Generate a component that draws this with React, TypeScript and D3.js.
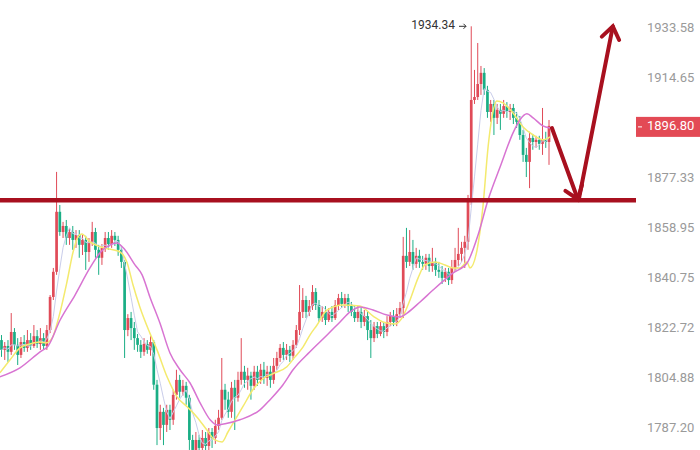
import React from 'react';
import * as d3 from 'd3';

const opens = [
  1818.5, 1815.0, 1816.4, 1814.3, 1821.4, 1816.8, 1813.2, 1817.8, 1815.7, 1818.5,
  1816.4, 1819.9, 1817.1, 1819.2, 1816.4, 1822.1, 1834.0, 1843.1, 1865.0, 1857.6,
  1859.8, 1855.4, 1857.6, 1854.7, 1856.5, 1852.9, 1854.7, 1850.3, 1854.0, 1857.6,
  1851.1, 1848.2, 1851.8, 1855.4, 1853.2, 1856.2, 1854.7, 1851.1, 1846.7, 1822.1,
  1826.4, 1822.8, 1819.2, 1816.8, 1814.3, 1817.1, 1815.0, 1817.8, 1802.6, 1787.3,
  1793.0, 1788.4, 1793.7, 1790.2, 1799.0, 1804.3, 1800.1, 1802.2, 1798.0, 1783.1,
  1779.6, 1783.1, 1780.3, 1783.8, 1781.0, 1785.9, 1783.8, 1788.0, 1790.9, 1800.8,
  1797.3, 1793.0, 1801.5, 1798.0, 1804.3, 1807.2, 1804.3, 1805.8, 1802.2, 1807.2,
  1804.3, 1807.9, 1805.0, 1807.2, 1804.3, 1809.3, 1812.1, 1815.7, 1813.2, 1815.0,
  1812.9, 1816.8, 1822.1, 1828.6, 1832.9, 1828.6, 1830.7, 1835.8, 1831.1, 1826.4,
  1828.6, 1825.7, 1828.6, 1826.4, 1831.1, 1833.6, 1831.5, 1833.6, 1830.7, 1828.6,
  1826.4, 1828.6, 1825.0, 1827.1, 1822.1, 1819.2, 1823.5, 1820.7, 1823.5, 1821.4,
  1825.0, 1827.1, 1825.0, 1827.8, 1830.0, 1848.9, 1846.7, 1850.3, 1846.0, 1848.9,
  1846.7, 1846.0, 1848.2, 1845.2, 1846.7, 1843.8, 1843.1, 1840.9, 1843.1, 1840.1,
  1844.5, 1847.4, 1849.6, 1851.8, 1854.0, 1869.4, 1906.5, 1907.6, 1912.5, 1916.7,
  1910.3, 1902.0, 1905.0, 1899.8, 1902.8, 1901.3, 1904.2, 1902.0, 1903.5, 1899.8,
  1898.3, 1893.4, 1886.0, 1883.4, 1892.3, 1890.8, 1891.6, 1890.1, 1891.6, 1890.8,
];

const highs = [
  1820.3, 1817.8, 1818.5, 1828.2, 1822.8, 1819.2, 1819.6, 1820.3, 1822.1, 1821.0,
  1823.9, 1822.1, 1822.8, 1821.0, 1823.9, 1834.7, 1844.5, 1879.7, 1867.5, 1861.3,
  1862.0, 1859.1, 1859.8, 1858.3, 1858.3, 1856.5, 1856.2, 1855.4, 1861.3, 1859.1,
  1852.9, 1853.2, 1857.6, 1857.6, 1858.3, 1857.6, 1856.2, 1852.5, 1847.4, 1827.8,
  1828.6, 1825.0, 1820.7, 1818.5, 1819.2, 1818.5, 1819.9, 1818.5, 1804.3, 1795.5,
  1794.4, 1795.5, 1795.5, 1800.8, 1807.9, 1806.1, 1804.3, 1803.6, 1799.0, 1784.9,
  1785.9, 1784.9, 1786.6, 1785.9, 1787.3, 1787.3, 1790.2, 1793.7, 1812.1, 1802.9,
  1800.1, 1803.6, 1804.3, 1807.2, 1819.2, 1809.3, 1808.6, 1807.2, 1809.3, 1809.3,
  1810.0, 1810.7, 1809.3, 1809.3, 1812.1, 1814.3, 1817.1, 1817.8, 1817.1, 1816.4,
  1818.5, 1823.9, 1838.3, 1837.2, 1834.4, 1832.9, 1838.3, 1837.2, 1832.9, 1830.7,
  1830.7, 1830.0, 1830.7, 1832.9, 1835.1, 1835.8, 1835.1, 1835.1, 1832.2, 1830.7,
  1830.7, 1830.0, 1829.3, 1828.6, 1825.7, 1825.0, 1825.0, 1825.0, 1825.0, 1827.1,
  1828.6, 1829.3, 1830.0, 1832.2, 1855.8, 1859.1, 1858.3, 1854.7, 1851.8, 1851.1,
  1848.9, 1849.6, 1849.6, 1851.8, 1848.2, 1846.7, 1845.2, 1844.5, 1844.5, 1847.4,
  1851.8, 1859.1, 1854.0, 1856.2, 1871.2, 1934.34, 1917.8, 1928.0, 1919.3, 1918.5,
  1911.8, 1906.5, 1906.5, 1905.0, 1905.0, 1906.5, 1905.7, 1905.0, 1905.0, 1902.0,
  1900.5, 1895.3, 1888.6, 1894.6, 1893.8, 1893.1, 1893.1, 1903.5, 1894.6, 1899.0,
];

const lows = [
  1812.5, 1811.4, 1810.7, 1813.2, 1815.0, 1809.6, 1812.1, 1814.3, 1814.3, 1815.0,
  1815.7, 1815.7, 1815.0, 1815.0, 1815.0, 1821.0, 1832.9, 1842.0, 1856.2, 1855.4,
  1852.9, 1852.9, 1851.1, 1851.8, 1848.2, 1849.2, 1843.8, 1846.7, 1852.5, 1848.2,
  1842.0, 1845.6, 1850.3, 1851.1, 1851.8, 1852.5, 1848.9, 1844.5, 1812.1, 1819.9,
  1818.5, 1815.0, 1814.3, 1812.1, 1812.9, 1813.6, 1812.9, 1800.8, 1781.3, 1783.1,
  1781.3, 1785.9, 1786.6, 1788.4, 1797.3, 1798.0, 1798.7, 1795.5, 1779.6, 1776.1,
  1776.8, 1776.1, 1777.8, 1775.4, 1778.9, 1780.3, 1781.7, 1786.6, 1790.2, 1793.7,
  1790.9, 1790.9, 1786.6, 1796.6, 1802.6, 1801.5, 1800.8, 1797.3, 1800.8, 1802.2,
  1802.9, 1802.9, 1802.2, 1801.5, 1802.9, 1807.9, 1810.7, 1811.4, 1811.4, 1810.7,
  1811.4, 1815.7, 1820.3, 1826.4, 1826.4, 1827.1, 1829.3, 1829.3, 1825.0, 1825.0,
  1823.9, 1825.0, 1825.0, 1825.7, 1829.3, 1830.0, 1830.0, 1828.6, 1827.1, 1825.0,
  1825.0, 1822.8, 1823.5, 1818.5, 1812.1, 1817.8, 1819.2, 1819.9, 1819.2, 1819.9,
  1823.5, 1823.5, 1823.5, 1826.4, 1826.4, 1844.5, 1845.2, 1843.8, 1844.5, 1844.5,
  1843.8, 1843.8, 1843.1, 1843.1, 1841.6, 1840.9, 1838.7, 1839.4, 1838.3, 1838.7,
  1843.1, 1845.2, 1846.7, 1844.5, 1851.1, 1867.5, 1905.0, 1906.5, 1908.4, 1908.4,
  1899.8, 1898.3, 1893.4, 1897.5, 1895.3, 1899.8, 1899.8, 1899.0, 1897.5, 1896.0,
  1891.6, 1883.4, 1877.8, 1873.7, 1887.9, 1888.6, 1887.9, 1886.0, 1888.6, 1882.3,
];

const closes = [
  1815.0, 1816.4, 1814.3, 1821.4, 1816.8, 1813.2, 1817.8, 1815.7, 1818.5, 1816.4,
  1819.9, 1817.1, 1819.2, 1816.4, 1822.1, 1834.0, 1843.1, 1865.0, 1857.6, 1859.8,
  1855.4, 1857.6, 1854.7, 1856.5, 1852.9, 1854.7, 1850.3, 1854.0, 1857.6, 1851.1,
  1848.2, 1851.8, 1855.4, 1853.2, 1856.2, 1854.7, 1851.1, 1846.7, 1822.1, 1826.4,
  1822.8, 1819.2, 1816.8, 1814.3, 1817.1, 1815.0, 1817.8, 1802.6, 1787.3, 1793.0,
  1788.4, 1793.7, 1790.2, 1799.0, 1804.3, 1800.1, 1802.2, 1798.0, 1783.1, 1779.6,
  1783.1, 1780.3, 1783.8, 1781.0, 1785.9, 1783.8, 1788.0, 1790.9, 1800.8, 1797.3,
  1793.0, 1801.5, 1798.0, 1804.3, 1807.2, 1804.3, 1805.8, 1802.2, 1807.2, 1804.3,
  1807.9, 1805.0, 1807.2, 1804.3, 1809.3, 1812.1, 1815.7, 1813.2, 1815.0, 1812.9,
  1816.8, 1822.1, 1828.6, 1832.9, 1828.6, 1830.7, 1835.8, 1831.1, 1826.4, 1828.6,
  1825.7, 1828.6, 1826.4, 1831.1, 1833.6, 1831.5, 1833.6, 1830.7, 1828.6, 1826.4,
  1828.6, 1825.0, 1827.1, 1822.1, 1819.2, 1823.5, 1820.7, 1823.5, 1821.4, 1825.0,
  1827.1, 1825.0, 1827.8, 1830.0, 1848.9, 1846.7, 1850.3, 1846.0, 1848.9, 1846.7,
  1846.0, 1848.2, 1845.2, 1846.7, 1843.8, 1843.1, 1840.9, 1843.1, 1840.1, 1844.5,
  1847.4, 1849.6, 1851.8, 1854.0, 1869.4, 1906.5, 1907.6, 1912.5, 1916.7, 1910.3,
  1902.0, 1905.0, 1899.8, 1902.8, 1901.3, 1904.2, 1902.0, 1903.5, 1899.8, 1898.3,
  1893.4, 1886.0, 1883.4, 1892.3, 1890.8, 1891.6, 1890.1, 1891.6, 1890.8, 1896.8,
];

// moving-average lines: [bar index, price]
const maMidPoints: [number, number][] = [
  [-0.5, 1806.8], [2.6, 1811.4], [5.7, 1815.7], [8.8, 1817.1], [11.9, 1817.8], [13.7, 1817.5],
  [15.6, 1819.2], [18.1, 1828.6], [20.2, 1839.4], [22.1, 1850.3], [23.6, 1855.8], [24.8, 1856.9],
  [27.3, 1854.0], [30.4, 1852.2], [34.4, 1851.1], [36.6, 1850.3], [38.7, 1846.7], [40.6, 1838.3],
  [42.7, 1830.4], [45.8, 1821.0], [48, 1815.0], [51.1, 1805.4], [54.2, 1798.3], [57.3, 1794.8],
  [60.3, 1791.2], [63.4, 1786.6], [65.9, 1783.1], [68.1, 1782.4], [69.9, 1785.9], [72.1, 1790.2],
  [74.5, 1794.8], [77.6, 1800.8], [80.7, 1804.7], [84.4, 1806.8], [88.1, 1809.0], [90.6, 1812.5],
  [93.1, 1816.1], [95.2, 1820.3], [97.4, 1823.9], [100.5, 1829.3], [105.4, 1831.1], [110.6, 1830.7],
  [114.7, 1827.1], [117.7, 1825.0], [121.5, 1824.3], [123.6, 1826.4], [126.1, 1832.9], [128.6, 1840.9],
  [130.7, 1845.6], [133.8, 1846.7], [136.9, 1845.6], [139.4, 1844.5], [141.5, 1844.5], [143.7, 1846.7],
  [144.6, 1844.5], [146.8, 1851.1], [148.6, 1866.8], [150.2, 1889.0], [151.4, 1900.1], [152.9, 1906.1],
  [154.8, 1905.4], [157.9, 1901.6], [161, 1896.4], [164.1, 1893.4], [167.1, 1891.6], [169.3, 1892.7],
];

const maSlowPoints: [number, number][] = [
  [-0.5, 1805.4], [5.7, 1808.6], [11.9, 1814.3], [14.4, 1816.4], [18.1, 1825.7], [22.7, 1834.7],
  [27.3, 1844.5], [30.4, 1850.0], [33.5, 1852.9], [35.6, 1853.6], [38.1, 1851.1], [41.2, 1845.6],
  [43.4, 1842.0], [45.8, 1834.0], [48.9, 1824.6], [52, 1813.9], [55.1, 1807.9], [58.2, 1803.2],
  [61.3, 1796.2], [64.4, 1790.2], [66.5, 1788.4], [69, 1788.8], [73.6, 1790.2], [79.8, 1793.7],
  [82.9, 1797.3], [86.9, 1802.6], [90, 1807.9], [95.2, 1814.3], [100.5, 1820.3], [104.5, 1825.0],
  [107.6, 1828.6], [110.6, 1830.4], [114.7, 1829.3], [119, 1827.5], [123, 1826.8], [125.2, 1828.2],
  [129.2, 1832.2], [133.2, 1836.5], [139.4, 1842.7], [143.7, 1846.3], [147.1, 1856.5], [150.2, 1869.4],
  [153.9, 1881.5], [157.9, 1894.2], [160, 1899.0], [162.2, 1901.3], [164.1, 1899.8], [167.1, 1896.8],
  [169.3, 1896.0],
];

const yTickValues = [1933.58, 1914.65, 1877.33, 1858.95, 1840.75, 1822.72, 1804.88, 1787.2];
const lastPrice = 1896.8;
const peakPrice = 1934.34;
const supportPrice = 1869.2;
// hand-drawn arrows in chart coordinates: [bar index, price]
const downArrow: [number, number][] = [[169.9, 1896.0], [177.9, 1869.6]];
const upArrow: [number, number][] = [[178.2, 1869.6], [188.7, 1934.3]];

const W = 700;
const H = 450;
const PLOT_RIGHT = 636;
const UP = '#e04b58';
const DOWN = '#1aae85';
const MARK = '#a8101f';

export default function App() {
  const n = closes.length;
  const x = d3.scaleLinear().domain([0, n - 1]).range([1.5, 549]);
  const y = d3.scaleLog().domain([1787.2, 1933.58]).range([428.3, 28.3]);
  const bodyW = 2.7;

  const maFast = closes.map((_, i) => d3.mean(closes.slice(Math.max(0, i - 4), i + 1)) as number);
  const fastLine = d3.line<number>().x((_, i) => x(i)).y((d) => y(d))(maFast) || '';
  const smooth = d3.line<[number, number]>().x((d) => x(d[0])).y((d) => y(d[1])).curve(d3.curveMonotoneX);
  const midPath = smooth(maMidPoints) || '';
  const slowPath = smooth(maSlowPoints) || '';

  const arrow = (pts: [number, number][]) => {
    const [a, b] = pts;
    const x1 = x(a[0]), y1 = y(a[1]), x2 = x(b[0]), y2 = y(b[1]);
    const ang = Math.atan2(y1 - y2, x1 - x2);
    const len = 15;
    const spread = (36 * Math.PI) / 180;
    const w1 = [x2 + len * Math.cos(ang - spread), y2 + len * Math.sin(ang - spread)];
    const w2 = [x2 + len * Math.cos(ang + spread), y2 + len * Math.sin(ang + spread)];
    return (
      <g>
        <line x1={x1} y1={y1} x2={x2} y2={y2} stroke={MARK} strokeWidth={4} strokeLinecap="round" />
        <polyline
          points={`${w1[0]},${w1[1]} ${x2},${y2} ${w2[0]},${w2[1]}`}
          fill="none"
          stroke={MARK}
          strokeWidth={4}
          strokeLinecap="round"
          strokeLinejoin="miter"
        />
      </g>
    );
  };

  const yLast = y(lastPrice);
  const ySupport = y(supportPrice);
  const yPeak = y(peakPrice);

  return (
    <svg
      width={W}
      height={H}
      style={{ position: 'absolute', left: 0, top: 0, background: '#fff', fontFamily: 'Roboto, sans-serif' }}
    >
      <defs>
        <clipPath id="plot">
          <rect x={0} y={0} width={PLOT_RIGHT} height={H} />
        </clipPath>
      </defs>
      <rect x={0} y={0} width={W} height={H} fill="#fff" />
      <g clipPath="url(#plot)">
        {closes.map((c, i) => {
          const o = opens[i];
          const up = c >= o;
          const col = up ? UP : DOWN;
          const top = y(Math.max(o, c));
          const bot = y(Math.min(o, c));
          const cx = x(i);
          return (
            <g key={i}>
              <line x1={cx} x2={cx} y1={y(highs[i])} y2={y(lows[i])} stroke={col} strokeWidth={1} />
              <rect x={cx - bodyW / 2} y={top} width={bodyW} height={Math.max(1, bot - top)} fill={col} />
            </g>
          );
        })}
        <path d={fastLine} fill="none" stroke="#c9cdea" strokeWidth={1} />
        <path d={midPath} fill="none" stroke="#f4ea6e" strokeWidth={1.5} />
        <path d={slowPath} fill="none" stroke="#d874d2" strokeWidth={1.5} />
      </g>
      <line x1={0} x2={PLOT_RIGHT} y1={ySupport} y2={ySupport} stroke={MARK} strokeWidth={4.5} />
      {arrow(downArrow)}
      {arrow(upArrow)}
      <text x={455} y={yPeak} textAnchor="end" dominantBaseline="middle" fontSize={12} fill="#333">
        {peakPrice.toFixed(2)}
      </text>
      <g stroke="#333" strokeWidth={1} fill="none">
        <line x1={459} x2={466} y1={yPeak} y2={yPeak} />
        <polyline points={`${463.5},${yPeak - 2.5} ${466},${yPeak} ${463.5},${yPeak + 2.5}`} />
      </g>
      {yTickValues.map((v) => (
        <text key={v} x={647} y={y(v)} dominantBaseline="middle" fontSize={13} fill="#9a9a9a">
          {v.toFixed(2)}
        </text>
      ))}
      <rect x={PLOT_RIGHT} y={yLast - 9} width={W - PLOT_RIGHT} height={20} fill="#e34a55" />
      <line x1={PLOT_RIGHT + 2} x2={PLOT_RIGHT + 6} y1={yLast + 1} y2={yLast + 1} stroke="#fff" strokeWidth={1} />
      <text x={647} y={yLast + 1} dominantBaseline="middle" fontSize={13} fill="#fff">
        {lastPrice.toFixed(2)}
      </text>
    </svg>
  );
}
